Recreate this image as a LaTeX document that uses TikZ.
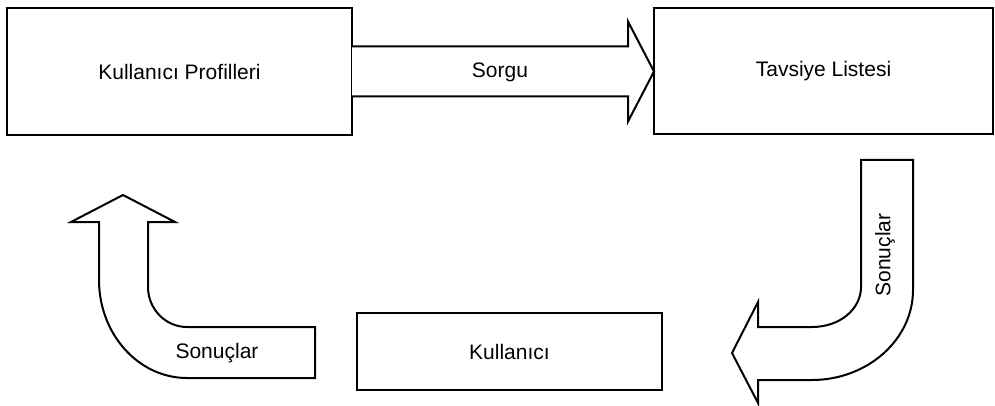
\documentclass[tikz,border=0pt]{standalone}
\usepackage{fontspec}
\setmainfont{Liberation Sans}
\usetikzlibrary{calc}
\begin{document}
\begin{tikzpicture}[x=1pt,y=-1pt,
  box/.style={draw,line width=2pt,fill=white,inner sep=0pt,outer sep=0pt,
              font=\fontsize{21}{24}\selectfont},
  blockarrow/.style={draw,line width=2pt,fill=white,line join=miter},
  lbl/.style={inner sep=0pt,font=\fontsize{21}{24}\selectfont}]
  \useasboundingbox[fill=white] (0,0) rectangle (995,406);

  % the three boxes
  \node[box,minimum width=345pt,minimum height=127pt] (prof) at (179.5,71.5) {Kullanıcı Profilleri};
  \node[box,minimum width=339pt,minimum height=126pt] (tav)  at (823.5,71.5) {Tavsiye Listesi};
  \node[box,minimum width=305pt,minimum height=77pt]  (kul)  at (509.5,351.5) {Kullanıcı};

  % wide "Sorgu" arrow from the profiles box to the recommendation list
  \coordinate (hb) at (628,0);
  \draw[blockarrow]
    ($(prof.east)+(0,-25)$) -- ($(hb |- prof.east)+(0,-25)$)
    -- ($(hb |- prof.east)+(0,-50)$) -- (tav.west)
    -- ($(hb |- prof.east)+(0,50)$) -- ($(hb |- prof.east)+(0,25)$)
    -- ($(prof.east)+(0,25)$);
  \node[lbl] (sorgu) at (500,72) {Sorgu};

  % bent arrow on the right, pointing left towards the user
  \draw[blockarrow]
    (861,160) -- (861,287) .. controls (861,309) and (840,327) .. (812,327)
    -- (758,327) -- (758,302) -- (732,353) -- (758,403) -- (758,380)
    -- (812,380) .. controls (867,380) and (913,340) .. (913,290)
    -- (913,160) -- cycle;
  \node[lbl,rotate=90] (sonR) at (885,255) {Sonuçlar};

  % bent arrow on the left, pointing up towards the profiles
  \draw[blockarrow]
    (123,195) -- (175,222) -- (148,222) -- (148,287)
    .. controls (148,309) and (165.5,327) .. (187,327)
    -- (315,327) -- (315,378) -- (187,378)
    .. controls (138.4,378) and (99,334) .. (99,280)
    -- (99,222) -- (71,222) -- cycle;
  \node[lbl] (sonL) at (217,353) {Sonuçlar};
\end{tikzpicture}
\end{document}
